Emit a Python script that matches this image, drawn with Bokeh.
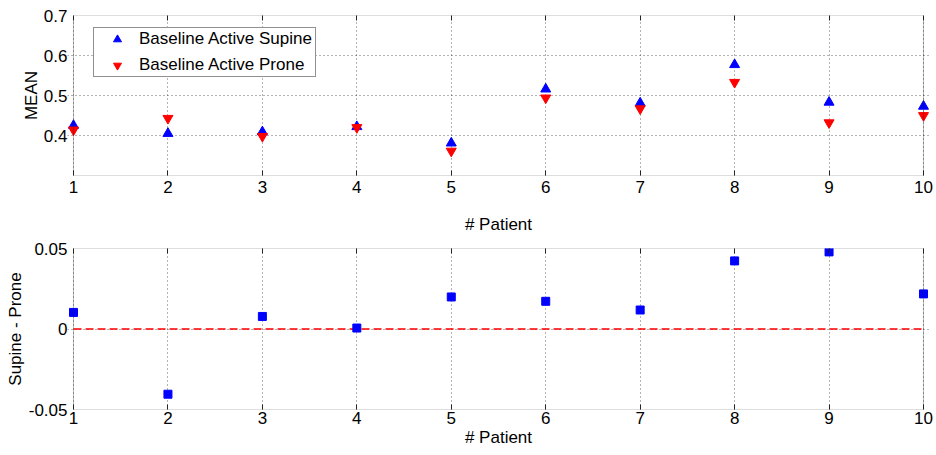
from bokeh.plotting import figure
from bokeh.layouts import column
from bokeh.models import Range1d, FixedTicker, LinearAxis, BoxAnnotation, Legend, LegendItem
from bokeh.embed import file_html
from bokeh.resources import INLINE

# ---------------- data ----------------
patients = [1, 2, 3, 4, 5, 6, 7, 8, 9, 10]
supine = [0.425, 0.405, 0.409, 0.422, 0.381, 0.516, 0.481, 0.577, 0.483, 0.473]
prone = [0.414, 0.443, 0.398, 0.420, 0.361, 0.494, 0.467, 0.533, 0.432, 0.450]
diff = [0.0103, -0.0405, 0.0078, 0.0006, 0.0199, 0.0172, 0.0118, 0.0423, 0.0479, 0.0218]
top_yticks = [0.4, 0.5, 0.6, 0.7]
bot_yticks = [-0.05, 0, 0.05]
bot_ytick_labels = {-0.05: "-0.05", 0: "0", 0.05: "0.05"}
xlabel = "# Patient"
top_ylabel = "MEAN"
bot_ylabel = "Supine - Prone"
label_supine = "Baseline Active Supine"
label_prone = "Baseline Active Prone"

FONT = "Liberation Sans"
FS = "17px"
BOX = "#222222"

x0, x1 = patients[0], patients[-1]
pad = 6.0 / (850.0 / (x1 - x0))   # a few pixels so edge markers are not clipped
xr_start, xr_end = x0 - pad, x1 + pad


def style(p, yticks, ylabel, y0, y1, label_standoff_x, tick_standoff_x, ylab_standoff):
    p.outline_line_color = None
    p.add_layout(BoxAnnotation(left=x0, right=x1, bottom=y0, top=y1,
                               fill_color=None, line_color=BOX, line_width=1))
    xa = p.xaxis[0]
    xa.ticker = FixedTicker(ticks=patients)
    xa.axis_line_color = None
    xa.major_tick_in = 5
    xa.major_tick_out = 0
    xa.major_tick_line_color = BOX
    xa.minor_tick_line_color = None
    xa.major_label_standoff = tick_standoff_x
    xa.major_label_text_font = FONT
    xa.major_label_text_font_size = FS
    xa.major_label_text_color = "black"
    xa.axis_label = xlabel
    xa.axis_label_standoff = label_standoff_x
    xa.axis_label_text_font = FONT
    xa.axis_label_text_font_size = FS
    xa.axis_label_text_font_style = "normal"
    xa.axis_label_text_color = "black"

    ya = p.yaxis[0]
    ya.ticker = FixedTicker(ticks=yticks)
    ya.axis_line_color = None
    ya.major_tick_in = 0
    ya.major_tick_out = 0
    ya.minor_tick_line_color = None
    ya.major_label_standoff = 0
    ya.major_label_text_font = FONT
    ya.major_label_text_font_size = FS
    ya.major_label_text_color = "black"
    ya.axis_label = ylabel
    ya.axis_label_standoff = ylab_standoff
    ya.axis_label_text_font = FONT
    ya.axis_label_text_font_size = FS
    ya.axis_label_text_font_style = "normal"
    ya.axis_label_text_color = "black"

    top_ax = LinearAxis(ticker=FixedTicker(ticks=patients), axis_line_color=None,
                        major_tick_in=5, major_tick_out=0, major_tick_line_color=BOX,
                        minor_tick_line_color=None, major_label_standoff=0,
                        major_label_text_font_size="1px", major_label_text_alpha=0)
    p.add_layout(top_ax, "above")

    for g in (p.xgrid[0], p.ygrid[0]):
        g.grid_line_color = "black"
        g.grid_line_alpha = 0.6
        g.grid_line_dash = "1 3"
        g.grid_line_width = 1


# ---------------- top panel ----------------
p1 = figure(width=936, height=240, x_range=Range1d(xr_start, xr_end),
            y_range=Range1d(0.3, 0.7), output_backend="svg", toolbar_location=None,
            min_border_left=67, min_border_right=7, min_border_top=15, min_border_bottom=65)
style(p1, top_yticks, top_ylabel, 0.3, 0.7, 19, 5, 0)

r1 = p1.scatter(x=patients, y=supine, marker="triangle", size=10,
                fill_color="blue", line_color="blue", line_width=1)
r2 = p1.scatter(x=patients, y=prone, marker="inverted_triangle", size=10,
                fill_color="red", line_color="red", line_width=1)

legend = Legend(items=[LegendItem(label=label_supine, renderers=[r1]),
                       LegendItem(label=label_prone, renderers=[r2])],
                location=(26, 98), padding=1, spacing=6, margin=0,
                glyph_width=44, glyph_height=20, label_height=20, label_width=175,
                label_standoff=0, label_text_font=FONT, label_text_font_size=FS,
                label_text_color="black", border_line_color=BOX, border_line_width=1,
                background_fill_color="white", background_fill_alpha=1)
p1.add_layout(legend)

# ---------------- bottom panel ----------------
p2 = figure(width=936, height=215, x_range=Range1d(xr_start, xr_end),
            y_range=Range1d(-0.05, 0.05), output_backend="svg", toolbar_location=None,
            min_border_left=67, min_border_right=7, min_border_top=8, min_border_bottom=46)
style(p2, bot_yticks, bot_ylabel, -0.05, 0.05, 1, 2, 1)
p2.yaxis[0].major_label_overrides = bot_ytick_labels

zero_x = [x0, x1]
zero_y = [0, 0]
p2.line(x=zero_x, y=zero_y, line_color="red", line_width=1.5, line_dash="8 4")
p2.scatter(x=patients, y=diff, marker="square", size=8,
           fill_color="blue", line_color="blue", line_width=1)

layout = column(p1, p2, spacing=0)
open("out.html", "w").write(file_html(layout, INLINE))
